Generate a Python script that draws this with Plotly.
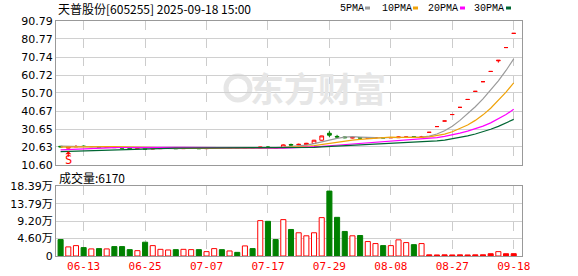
import plotly.graph_objects as go
from plotly.subplots import make_subplots

# ---------------- data ----------------
dates = [
    "06-10", "06-11", "06-12", "06-13", "06-16", "06-17", "06-18", "06-19", "06-20", "06-23",
    "06-24", "06-25", "06-26", "06-27", "06-30", "07-01", "07-02", "07-03", "07-04", "07-07",
    "07-08", "07-09", "07-10", "07-11", "07-14", "07-15", "07-16", "07-17", "07-18", "07-21",
    "07-22", "07-23", "07-24", "07-25", "07-28", "07-29", "07-30", "07-31", "08-01", "08-04",
    "08-05", "08-06", "08-07", "08-08", "08-11", "08-12", "08-13", "08-14", "08-22", "08-25",
    "08-26", "08-27", "08-28", "08-29", "09-01", "09-02", "09-03", "09-04", "09-05", "09-18",
]
opens = [
    21.0, 20.0, 20.7, 21.1, 20.8, 20.8, 20.4, 20.6, 20.3, 20.0,
    19.8, 19.9, 19.5, 19.7, 19.8, 19.9, 19.7, 19.8, 19.9, 19.7,
    19.8, 19.9, 19.8, 19.9, 19.8, 20.2, 19.9, 20.6, 20.3, 20.3,
    22.0, 21.8, 21.9, 22.6, 24.4, 28.3, 26.5, 26.2, 25.6, 25.9,
    25.5, 25.7, 25.9, 25.7, 25.8, 26.0, 26.3, 26.1, 28.8, 32.0,
    35.1, 38.7, 42.7, 47.1, 51.6, 57.0, 62.7, 68.6, 76.0, 83.9,
]
highs = [
    21.2, 20.9, 21.7, 21.5, 21.0, 20.9, 20.7, 20.7, 20.4, 20.1,
    20.0, 20.0, 19.9, 20.0, 20.0, 20.0, 19.9, 20.0, 19.9, 19.9,
    20.0, 19.9, 20.0, 19.9, 20.3, 20.3, 20.7, 21.1, 20.4, 22.1,
    22.5, 22.5, 22.9, 24.6, 26.9, 29.5, 27.4, 26.4, 26.1, 26.0,
    26.0, 26.0, 26.0, 26.0, 26.4, 26.4, 26.4, 26.8, 28.8, 32.0,
    35.1, 38.7, 42.7, 47.1, 51.6, 57.0, 62.7, 68.9, 76.0, 83.9,
]
lows = [
    20.5, 19.9, 20.6, 20.7, 20.6, 20.4, 20.3, 20.2, 19.9, 19.7,
    19.7, 19.4, 19.4, 19.6, 19.7, 19.6, 19.6, 19.7, 19.6, 19.7,
    19.7, 19.7, 19.7, 19.7, 19.7, 19.9, 19.8, 20.0, 20.0, 20.1,
    21.2, 21.5, 21.7, 22.4, 24.2, 26.2, 25.5, 25.5, 25.4, 25.4,
    25.4, 25.6, 25.6, 25.6, 25.7, 25.9, 26.0, 26.0, 28.8, 32.0,
    35.1, 38.7, 42.7, 47.1, 51.6, 57.0, 62.7, 67.6, 76.0, 83.9,
]
closes = [
    20.7, 20.8, 20.9, 20.9, 20.9, 20.5, 20.6, 20.3, 20.0, 19.8,
    19.9, 19.5, 19.8, 19.9, 19.9, 19.7, 19.8, 19.9, 19.7, 19.8,
    19.9, 19.8, 19.9, 19.8, 20.2, 20.0, 20.6, 20.4, 20.1, 21.8,
    21.7, 22.1, 22.7, 24.4, 26.8, 27.2, 26.2, 25.8, 25.9, 25.6,
    25.8, 25.9, 25.7, 25.9, 26.2, 26.2, 26.1, 26.2, 28.8, 32.0,
    35.1, 38.7, 42.7, 47.1, 51.6, 57.0, 62.7, 68.9, 76.0, 83.9,
]
# volume in 万 (10k) shares
volumes = [
    4.34, 2.40, 2.74, 2.21, 1.87, 1.95, 1.87, 2.48, 2.48, 1.68,
    1.41, 3.64, 2.74, 1.76, 1.59, 1.68, 1.76, 1.68, 1.68, 1.15,
    1.95, 1.68, 1.33, 0.96, 2.66, 1.95, 9.33, 9.15, 4.34, 9.60,
    7.00, 6.13, 5.33, 6.13, 10.13, 17.13, 10.20, 6.48, 5.33, 5.41,
    3.81, 3.28, 2.74, 2.74, 4.26, 3.54, 3.00, 3.28, 0.30, 0.28,
    0.30, 0.28, 0.30, 0.28, 0.30, 0.32, 0.60, 1.15, 0.60, 0.617,
]
# closes of the 29 sessions before the window (needed for the moving averages)
pre_closes = [
    16.2, 16.0, 15.8, 15.9, 16.1, 15.9, 16.0, 16.2, 16.1, 15.9,
    16.3, 16.8, 17.0, 17.2, 17.5, 17.4, 17.8, 18.0, 18.3, 18.7,
    19.5, 19.6, 19.8, 20.2, 20.5, 21.3, 21.0, 21.4, 21.1,
]

price_ticks = [10.60, 20.63, 30.65, 40.67, 50.70, 60.72, 70.74, 80.77, 90.79]
vol_ticks = [0, 4.60, 9.20, 13.79, 18.39]
vol_tick_text = ["0", "4.60万", "9.20万", "13.79万", "18.39万"]
date_ticks = ["06-13", "06-25", "07-07", "07-17", "07-29", "08-08", "08-27", "09-18"]
ma_periods = [5, 10, 20, 30]
ma_names = ["5PMA", "10PMA", "20PMA", "30PMA"]
ma_colors = ["#9a9a9a", "#f0a30a", "#ff00ff", "#006633"]
title_text = "天普股份[605255] 2025-09-18 15:00"
vol_title = "成交量:6170"
watermark = "东方财富"
signal_date = "06-11"

RED = "#ff0000"
GREEN = "#008000"

# ---------------- derived ----------------
allc = pre_closes + closes
npre = len(pre_closes)
mas = []
for p in ma_periods:
    vals = []
    for i in range(len(closes)):
        seg = allc[npre + i - p + 1: npre + i + 1]
        vals.append(sum(seg) / len(seg))
    mas.append(vals)

bar_fill, bar_line = [], []
for o, c in zip(opens, closes):
    if c > o:
        bar_fill.append("#ffffff"); bar_line.append(RED)
    elif c < o:
        bar_fill.append(GREEN); bar_line.append(GREEN)
    else:
        bar_fill.append(RED); bar_line.append(RED)

# ---------------- layout geometry ----------------
W, H = 578, 276
L, R, T, B = 56, 56, 21, 20
PW, PH = W - L - R, H - T - B


def px(x):
    return (x - L) / PW


def py(y):
    return (H - B - y) / PH


fig = make_subplots(rows=2, cols=1, shared_xaxes=False, vertical_spacing=0)

fig.add_trace(go.Candlestick(
    x=dates, open=opens, high=highs, low=lows, close=closes,
    increasing=dict(line=dict(color=RED, width=1), fillcolor="#ffffff"),
    decreasing=dict(line=dict(color=GREEN, width=1), fillcolor=GREEN),
    whiskerwidth=0, showlegend=False, hoverinfo="skip",
), row=1, col=1)

for name, vals, col in zip(ma_names, mas, ma_colors):
    fig.add_trace(go.Scatter(x=dates, y=vals, mode="lines", name=name,
                             line=dict(color=col, width=1.2), showlegend=False,
                             hoverinfo="skip"), row=1, col=1)

fig.add_trace(go.Bar(x=dates, y=volumes, marker=dict(color=bar_fill, line=dict(color=bar_line, width=1)),
                     width=0.66, showlegend=False, hoverinfo="skip"), row=2, col=1)

axis_common = dict(showline=True, linecolor="#999999", linewidth=1, mirror=True, zeroline=False,
                   automargin=False)

xr = [-0.6, 60.08]
fig.update_xaxes(type="category", range=xr, tickvals=date_ticks, showgrid=True,
                 gridcolor="#cccccc", griddash="dash", gridwidth=1,
                 rangeslider=dict(visible=False), ticks="", **axis_common)
fig.update_xaxes(showticklabels=False, row=1, col=1)
fig.update_xaxes(showticklabels=True, tickfont=dict(family="DejaVu Sans Mono", size=11, color=RED),
                 row=2, col=1)

fig.update_yaxes(range=[price_ticks[0], price_ticks[-1]], tickvals=price_ticks,
                 ticktext=["%.2f" % v for v in price_ticks], showgrid=True, gridcolor="#d0d0d0",
                 tickfont=dict(family="DejaVu Sans", size=11, color="#000000"), ticks="",
                 domain=[py(165), 1.0], row=1, col=1, **axis_common)
fig.update_yaxes(range=[0, vol_ticks[-1]], tickvals=vol_ticks, ticktext=vol_tick_text,
                 showgrid=True, gridcolor="#d0d0d0",
                 tickfont=dict(family="DejaVu Sans, Noto Sans CJK SC", size=11, color="#000000"), ticks="",
                 domain=[0.0, py(186.3)], row=2, col=1, **axis_common)

annotations = []
annotations.append(dict(text=title_text, xref="paper", yref="paper", x=px(56), y=py(8.5),
                        xanchor="left", yanchor="middle", showarrow=False,
                        font=dict(family="Noto Sans CJK SC", size=12, color="#000000")))
annotations.append(dict(text=vol_title, xref="paper", yref="paper", x=px(57), y=py(177),
                        xanchor="left", yanchor="middle", showarrow=False,
                        font=dict(family="Noto Sans CJK SC", size=12, color="#000000")))
annotations.append(dict(text="<b>%s</b>" % watermark, xref="paper", yref="paper", x=px(318), y=py(88),
                        xanchor="center", yanchor="middle", showarrow=False,
                        font=dict(family="Noto Sans CJK SC", size=34, color="#e6e6e6")))
# legend labels
leg_x = [338, 380, 426, 472]
sq_x = [365, 413, 460, 506]
for name, lx, sx, col in zip(ma_names, leg_x, sq_x, ma_colors):
    annotations.append(dict(text=name, xref="paper", yref="paper", x=px(lx), y=py(8.5),
                            xanchor="left", yanchor="middle", showarrow=False,
                            font=dict(family="Liberation Mono", size=10, color="#000000")))

# signal marker
annotations.append(dict(x=signal_date, y=18.2, xref="x", yref="y", text="", showarrow=True,
                        arrowhead=1, arrowsize=1, arrowwidth=1, arrowcolor=RED, ax=0, ay=7))
annotations.append(dict(x=signal_date, y=13.3, xref="x", yref="y", text="S", showarrow=False,
                        font=dict(family="DejaVu Sans Mono", size=12, color=RED)))

shapes = []
for sx, col in zip(sq_x, ma_colors):
    shapes.append(dict(type="rect", xref="paper", yref="paper", x0=px(sx), x1=px(sx + 5),
                       y0=py(9.5), y1=py(6.5), fillcolor=col, line=dict(width=0)))
# watermark logo (light ring)
shapes.append(dict(type="circle", xref="paper", yref="paper", x0=px(226), x1=px(250),
                   y0=py(100), y1=py(76), fillcolor="rgba(0,0,0,0)",
                   line=dict(color="#e6e6e6", width=5), layer="below"))

fig.update_layout(width=W, height=H, margin=dict(l=L, r=R, t=T, b=B, autoexpand=False),
                  paper_bgcolor="#ffffff", plot_bgcolor="#ffffff",
                  annotations=annotations, shapes=shapes, bargap=0.3, boxgap=0.3,
                  showlegend=False)

fig.write_html("out.html")
